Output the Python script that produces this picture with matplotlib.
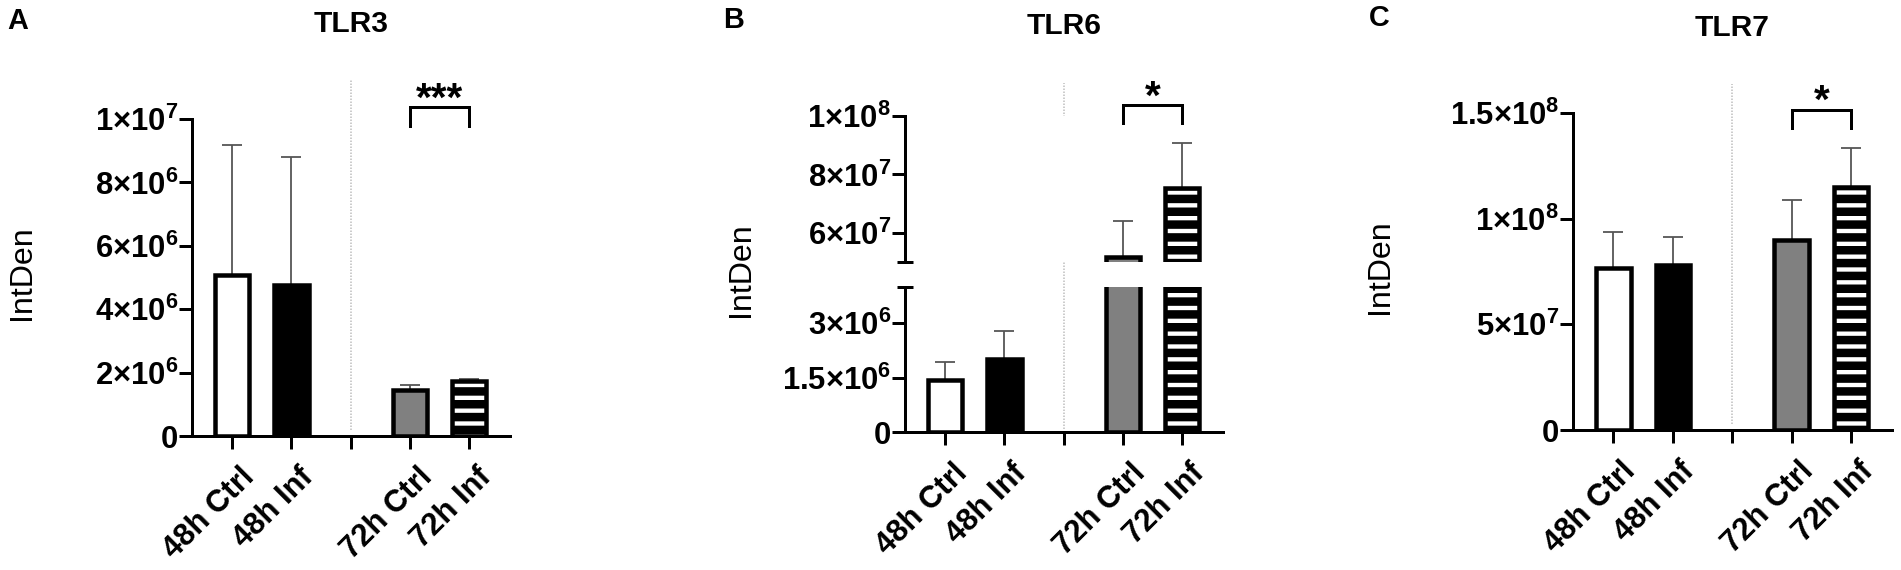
import matplotlib
matplotlib.use("Agg")
import matplotlib.pyplot as plt
import matplotlib.transforms as mtransforms

# ---- data ----
x_labels = ["48h Ctrl", "48h Inf", "", "72h Ctrl", "72h Inf"]
bar_pos = [0, 1, 3, 4]
bar_fill = ["white", "black", "#808080", "white"]
bar_hatch = [None, None, None, "-"]

tlr3_mean = [5.08e6, 4.77e6, 1.45e6, 1.74e6]
tlr3_err = [4.11e6, 4.02e6, 0.15e6, 0.06e6]
tlr3_ticks = [0, 2e6, 4e6, 6e6, 8e6, 1e7]
tlr3_ticklabels = ["0", r"2{\times}10^{6}", r"4{\times}10^{6}", r"6{\times}10^{6}",
                   r"8{\times}10^{6}", r"1{\times}10^{7}"]

tlr6_mean = [1.44e6, 2.02e6, 5.18e7, 7.54e7]
tlr6_err = [0.50e6, 0.76e6, 1.23e7, 1.52e7]
tlr6_low_ticks = [0, 1.5e6, 3e6]
tlr6_low_ticklabels = ["0", r"1.5{\times}10^{6}", r"3{\times}10^{6}"]
tlr6_up_ticks = [6e7, 8e7, 1e8]
tlr6_up_ticklabels = [r"6{\times}10^{7}", r"8{\times}10^{7}", r"1{\times}10^{8}"]
tlr6_low_lim = (0, 4e6)
tlr6_up_lim = (5e7, 1e8)

tlr7_mean = [7.66e7, 7.80e7, 8.97e7, 1.149e8]
tlr7_err = [1.73e7, 1.33e7, 1.92e7, 1.85e7]
tlr7_ticks = [0, 5e7, 1e8, 1.5e8]
tlr7_ticklabels = ["0", r"5{\times}10^{7}", r"1{\times}10^{8}", r"1.5{\times}10^{8}"]

# ---- style ----
DPI = 77
W, H = 1901, 570
PT = 72 / DPI  # pixels -> points

plt.rcParams["font.family"] = ["Liberation Sans", "DejaVu Sans"]
plt.rcParams["font.weight"] = "bold"
plt.rcParams["mathtext.fontset"] = "custom"
plt.rcParams["mathtext.rm"] = "Liberation Sans:bold"
plt.rcParams["mathtext.bf"] = "Liberation Sans:bold"
plt.rcParams["hatch.linewidth"] = 8.5 * PT

TICK_FS = 29
SPINE_W = 3 * PT
TICK_LEN = 13 * PT
XMIN, XMAX = -0.68, 4.69

fig = plt.figure(figsize=(W / DPI, H / DPI), dpi=DPI)


def px_axes(left, right, bottom, top):
    return fig.add_axes([left / W, 1 - bottom / H, (right - left) / W, (bottom - top) / H])


def style(ax, show_x=True):
    for s in ("top", "right"):
        ax.spines[s].set_visible(False)
    ax.spines["left"].set_linewidth(SPINE_W)
    ax.spines["bottom"].set_linewidth(SPINE_W)
    ax.set_xlim(XMIN, XMAX)
    ax.tick_params(axis="y", length=TICK_LEN, width=SPINE_W, pad=1 * PT, labelsize=TICK_FS)
    if show_x:
        ax.set_xticks(range(len(x_labels)))
        ax.set_xticklabels(x_labels, rotation=45, ha="right", va="top",
                           rotation_mode="anchor", fontsize=TICK_FS)
        ax.tick_params(axis="x", length=TICK_LEN, width=SPINE_W, pad=13 * PT)
        shift = mtransforms.ScaledTranslation(7 / DPI, 0, fig.dpi_scale_trans)
        for lab in ax.get_xticklabels():
            lab.set_transform(lab.get_transform() + shift)
    else:
        ax.spines["bottom"].set_visible(False)
        ax.set_xticks([])


def set_y(ax, ticks, labels, lim):
    ax.set_ylim(*lim)
    ax.set_yticks(ticks)
    ax.set_yticklabels(["$" + t + "$" for t in labels])


def bars(ax, mean, err):
    ax.errorbar(bar_pos, mean, yerr=[[0] * len(err), err], fmt="none",
                ecolor="#555555", elinewidth=1.8 * PT, capsize=10 * PT,
                capthick=1.8 * PT, zorder=1)
    ax.bar(bar_pos, mean, width=0.58, color=bar_fill, edgecolor="black",
           linewidth=4.5 * PT, hatch=bar_hatch, zorder=2)


def separator(ax, top_frac, bottom_frac=0.02):
    ax.axvline(2, ymin=bottom_frac, ymax=top_frac, color="#bdbdbd",
               linestyle=(0, (1, 1)), linewidth=1.5 * PT, clip_on=False, zorder=0)


def bracket(ax, lo, hi, star_y, stars):
    tr = mtransforms.blended_transform_factory(ax.transData, ax.transAxes)
    ax.plot([3, 3, 4, 4], [lo, hi, hi, lo], color="black", lw=3 * PT,
            transform=tr, clip_on=False, solid_joinstyle="miter")
    ax.text(3.5, star_y, stars, transform=tr, ha="center", va="baseline",
            fontsize=38, fontweight="bold")


def title(ax, txt, y_px):
    tr = mtransforms.blended_transform_factory(ax.transData, fig.transFigure)
    ax.text(2, 1 - y_px / H, txt, transform=tr, ha="center", va="center",
            fontsize=28, fontweight="bold")


def fig_text(x_px, y_px, txt, **kw):
    fig.text(x_px / W, 1 - y_px / H, txt, ha="center", va="center", **kw)


# ---- panel A: TLR3 ----
ax_a = px_axes(192, 510, 436, 119)
bars(ax_a, tlr3_mean, tlr3_err)
set_y(ax_a, tlr3_ticks, tlr3_ticklabels, (0, 1e7))
style(ax_a)
separator(ax_a, 1.123)
bracket(ax_a, 0.978, 1.038, 1.025, "***")
title(ax_a, "TLR3", 24)

# ---- panel B: TLR6 (broken axis) ----
ax_b_low = px_axes(905, 1223, 432, 287)
ax_b_up = px_axes(905, 1223, 262, 116)
for ax in (ax_b_low, ax_b_up):
    bars(ax, tlr6_mean, tlr6_err)
set_y(ax_b_low, tlr6_low_ticks, tlr6_low_ticklabels, tlr6_low_lim)
set_y(ax_b_up, tlr6_up_ticks, tlr6_up_ticklabels, tlr6_up_lim)
style(ax_b_low)
style(ax_b_up, show_x=False)
ax_b_low.set_yticks([tlr6_low_lim[1]], minor=True)
ax_b_up.set_yticks([tlr6_up_lim[0]], minor=True)
for ax in (ax_b_low, ax_b_up):
    ax.tick_params(axis="y", which="minor", direction="inout",
                   length=16 * PT, width=SPINE_W)
separator(ax_b_low, 2.41)
bracket(ax_b_up, 0.952, 1.075, 1.048, "*")
title(ax_b_low, "TLR6", 26)

# ---- panel C: TLR7 ----
ax_c = px_axes(1573, 1892, 430, 113)
bars(ax_c, tlr7_mean, tlr7_err)
set_y(ax_c, tlr7_ticks, tlr7_ticklabels, (0, 1.5e8))
style(ax_c)
separator(ax_c, 1.09)
bracket(ax_c, 0.953, 1.009, 1.0, "*")
title(ax_c, "TLR7", 28)

# ---- panel letters and y labels ----
for x, y, letter in [(18, 21, "A"), (734, 20, "B"), (1379, 18, "C")]:
    fig_text(x, y, letter, fontsize=27, fontweight="bold")
for x, y in [(22, 273), (741, 270), (1380, 267)]:
    fig_text(x, y, "IntDen", fontsize=30, fontweight="normal", rotation=90)

fig.savefig("out.png", dpi=DPI)
